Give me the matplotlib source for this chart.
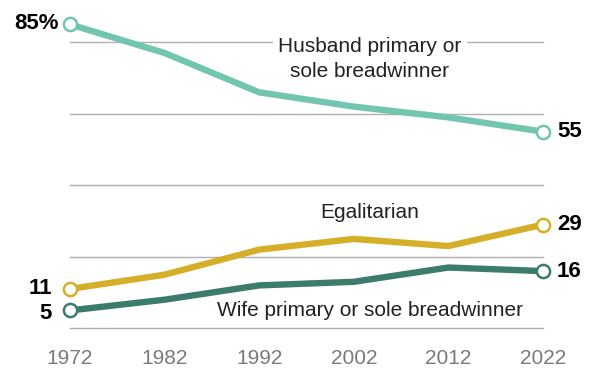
import matplotlib
matplotlib.use("Agg")
import matplotlib.pyplot as plt

years = [1972, 1982, 1992, 2002, 2012, 2022]
husband = [85, 77, 66, 62, 59, 55]
egalitarian = [11, 15, 22, 25, 23, 29]
wife = [5, 8, 12, 13, 17, 16]
tick_labels = ["1972", "1982", "1992", "2002", "2012", "2022"]

c_h = "#72c6ad"
c_e = "#d5af27"
c_w = "#3b7d6a"

plt.rcParams['font.family'] = ['Liberation Sans', 'DejaVu Sans']

fig = plt.figure(figsize=(6.06, 3.85), dpi=100)
ax = fig.add_axes([70/606, (385-328.3)/385, 473/606, (328.3-24.4)/385])
ax.set_xlim(1972, 2022)
ax.set_ylim(0, 85)

for g in [0, 20, 40, 60, 80]:
    ax.axhline(g, color="#b0b0b0", lw=1.0, zorder=1, clip_on=False)

for vals, col in [(husband, c_h), (egalitarian, c_e), (wife, c_w)]:
    ax.plot(years, vals, color=col, lw=4.6, solid_capstyle='round', zorder=3, clip_on=False)
    ax.plot([years[0], years[-1]], [vals[0], vals[-1]], 'o', ms=9.5, mfc='white',
            mec=col, mew=1.8, zorder=4, clip_on=False)

for s in ax.spines.values():
    s.set_visible(False)
ax.set_yticks([])
ax.set_xticks(years)
ax.set_xticklabels(tick_labels, color="#7a7a7a", fontsize=15)
ax.tick_params(axis='x', length=0, pad=15)

bold = dict(fontsize=16, fontweight='bold', color='black', va='center')
ax.annotate("85%", (years[0], husband[0]), xytext=(-8, 1), textcoords='offset points', ha='right', **bold)
ax.annotate(str(husband[-1]), (years[-1], husband[-1]), xytext=(10, 0), textcoords='offset points', ha='left', **bold)
ax.annotate(str(egalitarian[0]), (years[0], egalitarian[0]), xytext=(-13, 0), textcoords='offset points', ha='right', **bold)
ax.annotate(str(egalitarian[-1]), (years[-1], egalitarian[-1]), xytext=(10, 0), textcoords='offset points', ha='left', **bold)
ax.annotate(str(wife[0]), (years[0], wife[0]), xytext=(-13, -2), textcoords='offset points', ha='right', **bold)
ax.annotate(str(wife[-1]), (years[-1], wife[-1]), xytext=(10, 0), textcoords='offset points', ha='left', **bold)

lab = dict(fontsize=15, color='#222222', ha='center', va='center', zorder=5)
ax.text(2003.7, 75.3, "Husband primary or\nsole breadwinner", linespacing=1.45,
        bbox=dict(facecolor='white', edgecolor='none', pad=4), **lab)
ax.text(2003.7, 32.3, "Egalitarian", **lab)
ax.text(2003.7, 5.0, "Wife primary or sole breadwinner", **lab)

fig.savefig("out.png", dpi=100)
